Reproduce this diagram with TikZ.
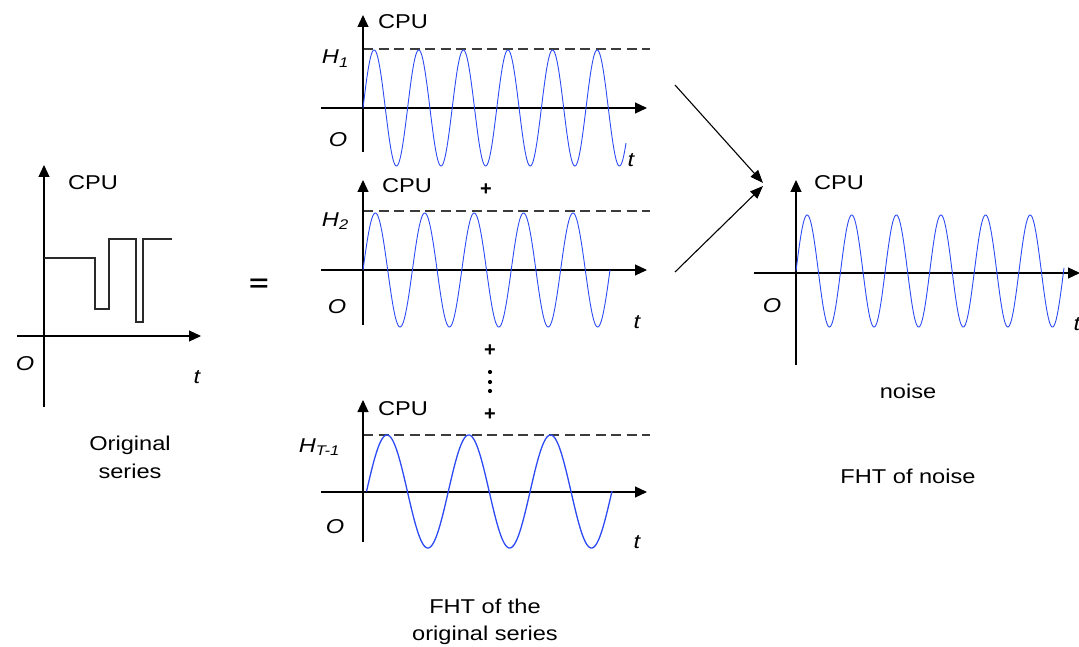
\documentclass[tikz,border=0pt]{standalone}
\usepackage{fontspec}
\setmainfont{Liberation Sans}
\usetikzlibrary{arrows.meta}
\definecolor{sineblue}{RGB}{45,75,245}
\definecolor{dashgray}{RGB}{60,60,60}
\newcommand{\tx}[1]{\scalebox{1.18}[1]{#1}}
\newcommand{\itx}{\itshape}
\tikzset{
  axis/.style={line width=1.2pt,-{Triangle[length=12pt,width=11pt]}},
  vaxis/.style={line width=1.2pt,-{Triangle[length=12pt,width=11pt]}},
  sine/.style={sineblue,line width=0.9pt,samples=400,smooth},
  hline/.style={dashgray,line width=1.2pt,dash pattern=on 10pt off 5.5pt},
  lab/.style={inner sep=0pt,anchor=base,font=\fontsize{20}{24}\selectfont},
  conn/.style={line width=1.1pt,-{Triangle[length=13pt,width=10pt]}}
}
\begin{document}
\begin{tikzpicture}[x=1pt,y=-1pt]
\useasboundingbox (0,0) rectangle (1079,647);

% ---------- Original series ----------
\draw[vaxis] (44,407) -- (44,165);
\draw[axis] (17,336) -- (201,336);
\draw[line width=1.2pt,dashgray!70!black] (44,258) -- (95,258) -- (95,309) -- (109,309) -- (109,239) -- (136,239) -- (136,322) -- (143,322) -- (143,239) -- (172,239);
\node[lab] (cpu0) at (93,190) {\tx{CPU}};
\node[lab] (o0) at (25,370) {\tx{\itx O}};
\node[lab] (t0) at (197,383) {\tx{\itx t}};
\node[lab] (orig1) at (130,450) {\tx{Original}};
\node[lab] (orig2) at (130,478) {\tx{series}};

\node[lab,font=\fontsize{24}{28}\selectfont\bfseries] (eq) at (259,291) {\scalebox{1.4}[1]{=}};

% ---------- Plot 1 ----------
\draw[hline] (363,49) -- (650,49);
\draw[vaxis] (363,152) -- (363,15);
\draw[axis] (321,108) -- (647,108);
\draw[sine,domain=363:626] plot (\x,{108-58*sin(8.07175*(\x-363))});
\node[lab] (cpu1) at (403,29) {\tx{CPU}};
\node[lab,anchor=base east] (h1) at (349,64) {\tx{{\itx H}\textsubscript{\itx 1}}};
\node[lab] (o1) at (338,147) {\tx{\itx O}};
\node[lab] (t1) at (631,167) {\tx{\itx t}};

% ---------- Plot 2 ----------
\draw[hline] (363,211) -- (650,211);
\draw[vaxis] (363,325) -- (363,180);
\draw[axis] (321,270) -- (647,270);
\draw[sine,domain=363:610] plot (\x,{270-57*sin(7.28745*(\x-363))});
\node[lab] (cpu2) at (407,193) {\tx{CPU}};
\node[lab,font=\fontsize{20}{24}\selectfont\bfseries] (plus1) at (486,196) {+};
\node[lab,anchor=base east] (h2) at (349,226) {\tx{{\itx H}\textsubscript{\itx 2}}};
\node[lab] (o2) at (337,313) {\tx{\itx O}};
\node[lab] (t2) at (637,328) {\tx{\itx t}};

% ---------- dots ----------
\node[lab,font=\fontsize{20}{24}\selectfont\bfseries] (plus2) at (490,356) {+};
\fill (490,372) circle (2.1);
\fill (490,382) circle (2.1);
\fill (490,391) circle (2.1);
\node[lab,font=\fontsize{20}{24}\selectfont\bfseries] (plus3) at (490,420) {+};

% ---------- Plot 3 ----------
\draw[hline] (363,435) -- (650,435);
\draw[vaxis] (363,542) -- (363,400);
\draw[axis] (321,492) -- (647,492);
\draw[sine,line width=1.3pt,domain=366.5:612] plot (\x,{491.5-56.5*sin(4.40098*(\x-366.5))});
\node[lab] (cpu3) at (403,415) {\tx{CPU}};
\node[lab,anchor=base east] (h3) at (340,452) {\tx{{\itx H}\textsubscript{\itx T-1}}};
\node[lab] (o3) at (335,533) {\tx{\itx O}};
\node[lab] (t3) at (637,548) {\tx{\itx t}};

\node[lab] (fht1) at (485,613) {\tx{FHT of the}};
\node[lab] (fht2) at (485,640) {\tx{original series}};

% ---------- connectors ----------
\coordinate (a1) at (675,85);
\coordinate (a2) at (675,272);
\coordinate (m) at (763,183);
\coordinate (m2) at (763,186);
\draw[conn] (a1) -- (m);
\draw[conn] (a2) -- (m2);

% ---------- Noise ----------
\draw[vaxis] (796,365) -- (796,180);
\draw[axis] (754,273) -- (1080,273);
\draw[sine,domain=796:1064] plot (\x,{271-56*sin(8.07175*(\x-796))});
\node[lab] (cpu4) at (839,190) {\tx{CPU}};
\node[lab] (o4) at (772,312) {\tx{\itx O}};
\node[lab] (t4) at (1077,330) {\tx{\itx t}};
\node[lab] (noise) at (908,398) {\tx{noise}};
\node[lab] (fhtn) at (908,483) {\tx{FHT of noise}};
\end{tikzpicture}
\end{document}
